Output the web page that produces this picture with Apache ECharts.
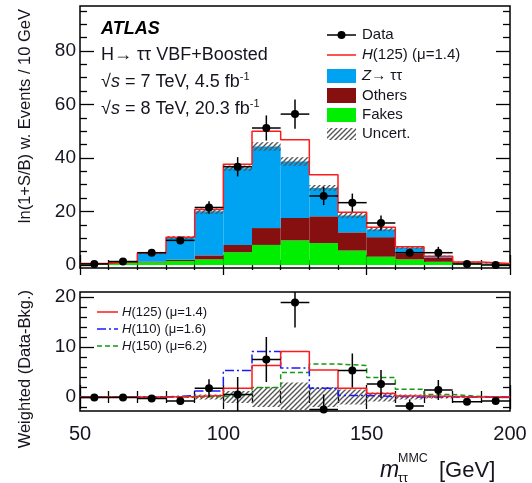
<!DOCTYPE html>
<html>
<head>
<meta charset="utf-8">
<script src="https://cdn.jsdelivr.net/npm/echarts@6/dist/echarts.min.js"></script>
<style>
html, body { margin: 0; padding: 0; background: #fff; }
#chart { width: 532px; height: 483px; }
</style>
</head>
<body>
<div id="chart"></div>
<script>
// bins of m_tautau^MMC, 10 GeV wide
const binLow = [50, 60, 70, 80, 90, 100, 110, 120, 130, 140, 150, 160, 170, 180, 190];
const binWidth = 10;

// upper panel: ln(1+S/B) weighted events
const fakes  = [0.3, 0.8, 1.0, 1.5, 2.1, 4.8, 7.5, 9.2, 8.2, 5.4, 3.1, 2.1, 1.2, 0.6, 0.3];
const others = [0.2, 0.3, 0.3, 0.5, 1.5, 2.7, 6.3, 8.4, 10.0, 6.8, 7.3, 2.3, 1.5, 0.3, 0.2];
const ztt    = [0.1, 0.2, 3.1, 8.2, 16.5, 28.7, 30.5, 21.1, 10.6, 6.3, 2.9, 2.1, 0.5, 0.2, 0.1];
const bkgUnc = [0.1, 0.2, 0.4, 0.6, 1.0, 1.0, 1.6, 1.6, 1.1, 1.0, 0.7, 0.5, 0.3, 0.2, 0.1];
const h125   = [0, 0, 0.1, 0.2, 0.6, 1.5, 5.7, 8.1, 4.9, 1.2, 0.8, 0.3, 0.1, 0, 0];
const dataTop    = [0.4, 1.3, 4.6, 9.2, 21.5, 36.7, 51.2, 56.4, 25.8, 23.3, 15.7, 4.6, 4.6, 0.4, 0.0];
const dataTopErr = [0.5, 0.6, 0.9, 1.2, 2.3, 3.6, 4.7, 5.5, 3.4, 3.4, 2.8, 1.5, 2.2, 0.5, 0.4];

// lower panel: weighted (data - bkg)
const dataW    = [-0.1, -0.1, -0.3, -0.8, 1.75, 0.5, 7.5, 18.9, -2.5, 5.3, 2.6, -1.8, 1.4, -0.95, -0.8];
const dataWErr = [0.3, 0.3, 0.5, 0.7, 1.8, 3.5, 4.5, 5.0, 3.0, 3.4, 2.8, 1.3, 2.0, 0.5, 0.3];
const uncW  = [0.05, 0.05, 0.1, 0.2, 0.5, 1.2, 2.0, 2.9, 2.0, 1.5, 0.9, 0.5, 0.3, 0.15, 0.1];
const h125W = [0, 0, 0, 0.1, 0.3, 1.75, 6.3, 9.1, 5.4, 1.75, 0.7, 0.2, 0.1, 0, 0];
const h110W = [0, 0, 0, 0.3, 1.2, 5.3, 9.1, 5.8, 1.75, 0.3, 0.1, 0, 0, 0, 0];
const h150W = [0, 0, 0, 0, 0.1, 0.5, 1.9, 4.9, 6.6, 6.3, 3.9, 1.55, 0.5, 0.1, 0];

// ticks
const xMajor = [50, 100, 150, 200];
const xMinor = [60, 70, 80, 90, 110, 120, 130, 140, 160, 170, 180, 190];
const yTopMajor = [0, 20, 40, 60, 80];
const yTopMinor = [5, 10, 15, 25, 30, 35, 45, 50, 55, 65, 70, 75, 85, 90, 95];
const yBotMajor = [0, 10, 20];
const yBotMinor = [-2, 2, 4, 6, 8, 12, 14, 16, 18];

const FONT = 'Liberation Sans';
const TXT = '#151520';

const hatchCanvas = (function () {
    const c = document.createElement('canvas');
    c.width = 5; c.height = 5;
    const g = c.getContext('2d');
    g.strokeStyle = '#555';
    g.lineWidth = 1.4;
    g.beginPath();
    g.moveTo(-1, 6); g.lineTo(6, -1);
    g.moveTo(-3, 3); g.lineTo(3, -3);
    g.moveTo(2, 8); g.lineTo(8, 2);
    g.stroke();
    return c;
})();
const hatch = { image: hatchCanvas, repeat: 'repeat' };

const sumArr = (a, b) => a.map((v, i) => v + b[i]);
const lvl1 = fakes;
const lvl2 = sumArr(fakes, others);
const bkg = sumArr(lvl2, ztt);

function rects(lo, hi) {
    return binLow.map((x, i) => [x, x + binWidth, lo[i], hi[i]]);
}
function steps(vals) {
    const pts = binLow.map((x, i) => [x, vals[i]]);
    pts.push([binLow[binLow.length - 1] + binWidth, vals[vals.length - 1]]);
    return pts;
}
function points(vals, errs) {
    return binLow.map((x, i) => [x + binWidth / 2, vals[i], errs[i]]);
}

function rectSeries(data, fill, xi, yi, z) {
    return {
        type: 'custom',
        xAxisIndex: xi,
        yAxisIndex: yi,
        z: z,
        silent: true,
        renderItem: function (params, api) {
            const p0 = api.coord([api.value(0), api.value(3)]);
            const p1 = api.coord([api.value(1), api.value(2)]);
            const cs = params.coordSys;
            const shape = echarts.graphic.clipRectByRect(
                { x: p0[0], y: p0[1], width: p1[0] - p0[0], height: p1[1] - p0[1] },
                { x: cs.x, y: cs.y, width: cs.width, height: cs.height }
            );
            if (!shape) return;
            return { type: 'rect', shape: shape, style: { fill: fill } };
        },
        data: data
    };
}

function stepSeries(vals, color, dash, xi, yi, z) {
    return {
        type: 'line',
        step: 'end',
        xAxisIndex: xi,
        yAxisIndex: yi,
        symbol: 'none',
        silent: true,
        z: z,
        lineStyle: { color: color, width: 1.5, type: dash },
        data: steps(vals)
    };
}

function pointSeries(data, xi, yi) {
    return {
        type: 'custom',
        xAxisIndex: xi,
        yAxisIndex: yi,
        z: 20,
        silent: true,
        renderItem: function (params, api) {
            const x = api.value(0), y = api.value(1), e = api.value(2);
            const cs = params.coordSys;
            const c = api.coord([x, y]);
            const l = api.coord([x - binWidth / 2, y]);
            const r = api.coord([x + binWidth / 2, y]);
            const top = Math.max(api.coord([x, y + e])[1], cs.y);
            const bot = Math.min(api.coord([x, y - e])[1], cs.y + cs.height);
            const ln = { stroke: '#000', lineWidth: 1.5 };
            return {
                type: 'group',
                children: [
                    { type: 'line', shape: { x1: l[0], y1: c[1], x2: r[0], y2: c[1] }, style: ln },
                    { type: 'line', shape: { x1: c[0], y1: top, x2: c[0], y2: bot }, style: ln },
                    { type: 'circle', shape: { cx: c[0], cy: c[1], r: 4 }, style: { fill: '#000' } }
                ]
            };
        },
        data: data
    };
}

function axis(gridIndex, position, min, max, ticks, len, label) {
    return {
        type: 'value',
        gridIndex: gridIndex,
        position: position,
        min: min,
        max: max,
        axisLine: { show: false },
        splitLine: { show: false },
        axisTick: {
            show: true, inside: true, length: len, customValues: ticks,
            lineStyle: { color: '#000', width: 1.3 }
        },
        axisLabel: label ? Object.assign({
            show: true, customValues: ticks, color: TXT,
            fontSize: 19, fontFamily: FONT
        }, label) : { show: false }
    };
}

function label(x, y, text, size, extra) {
    return {
        type: 'text', x: x, y: y,
        style: Object.assign({
            text: text, font: size + 'px ' + FONT, fill: TXT,
            align: 'left', verticalAlign: 'middle', textAlign: 'left', textVerticalAlign: 'middle'
        }, extra || {})
    };
}

const yTopMin = -1.12, yTopMax = 96.8;
const yBotMin = -2.8, yBotMax = 21;

const sqrtRich = {
    r: { fontSize: 18, fontFamily: FONT, lineHeight: 22 },
    s: { fontSize: 18, fontStyle: 'italic', fontFamily: FONT, lineHeight: 22 },
    sup: { fontSize: 11, fontFamily: FONT, verticalAlign: 'top', lineHeight: 11 }
};
const italicH = (size) => ({ rich: { i: { fontStyle: 'italic', fontSize: size, fontFamily: FONT } } });

const option = {
    animation: false,
    backgroundColor: '#fff',
    grid: [
        { left: 80, right: 22, top: 6, height: 262, show: true, borderColor: '#000', borderWidth: 1.5, backgroundColor: 'transparent' },
        { left: 80, right: 22, top: 292, height: 119, show: true, borderColor: '#000', borderWidth: 1.5, backgroundColor: 'transparent' }
    ],
    xAxis: [
        axis(0, 'bottom', 50, 200, xMajor, 10),
        axis(0, 'bottom', 50, 200, xMinor, 5),
        axis(0, 'top', 50, 200, xMajor, 10),
        axis(0, 'top', 50, 200, xMinor, 5),
        axis(1, 'bottom', 50, 200, xMajor, 12, { margin: 13, fontSize: 20 }),
        axis(1, 'bottom', 50, 200, xMinor, 6),
        axis(1, 'top', 50, 200, xMajor, 12),
        axis(1, 'top', 50, 200, xMinor, 6)
    ],
    yAxis: [
        axis(0, 'left', yTopMin, yTopMax, yTopMajor, 14, { margin: 4 }),
        axis(0, 'left', yTopMin, yTopMax, yTopMinor, 7),
        axis(0, 'right', yTopMin, yTopMax, yTopMajor, 14),
        axis(0, 'right', yTopMin, yTopMax, yTopMinor, 7),
        axis(1, 'left', yBotMin, yBotMax, yBotMajor, 14, { margin: 4 }),
        axis(1, 'left', yBotMin, yBotMax, yBotMinor, 7),
        axis(1, 'right', yBotMin, yBotMax, yBotMajor, 14),
        axis(1, 'right', yBotMin, yBotMax, yBotMinor, 7)
    ],
    series: [
        rectSeries(rects(fakes.map(() => 0), lvl1), '#00ee00', 0, 0, 2),
        rectSeries(rects(lvl1, lvl2), '#85100f', 0, 0, 2),
        rectSeries(rects(lvl2, bkg), '#00a2f2', 0, 0, 2),
        rectSeries(rects(bkg.map((v, i) => v - bkgUnc[i]), bkg.map((v, i) => v + bkgUnc[i])), hatch, 0, 0, 3),
        stepSeries(sumArr(bkg, h125), '#ff1a1a', 'solid', 0, 0, 4),
        pointSeries(points(dataTop, dataTopErr), 0, 0),

        rectSeries(rects(uncW.map(v => -v), uncW), hatch, 4, 4, 2),
        stepSeries(h150W, '#119911', [5, 3], 4, 4, 3),
        stepSeries(h110W, '#1a1aff', [9, 3, 2, 3], 4, 4, 4),
        stepSeries(h125W, '#ff1a1a', 'solid', 4, 4, 5),
        pointSeries(points(dataW, dataWErr), 4, 4)
    ],
    graphic: [
        // top-left labels
        label(101, 29, 'ATLAS', 18, { font: 'italic bold 18px ' + FONT, fill: '#000' }),
        label(101, 55, 'H\u2192 \u03c4\u03c4 VBF+Boosted', 18),
        label(101, 82, '{r|\u221a}{s|s} = 7 TeV, 4.5 fb{sup|-1}', 18, { rich: sqrtRich }),
        label(101, 109, '{r|\u221a}{s|s} = 8 TeV, 20.3 fb{sup|-1}', 18, { rich: sqrtRich }),

        // top legend
        { type: 'line', shape: { x1: 327, y1: 35, x2: 356, y2: 35 }, style: { stroke: '#000', lineWidth: 1.5 } },
        { type: 'circle', shape: { cx: 341.5, cy: 35, r: 4 }, style: { fill: '#000' } },
        label(362, 35, 'Data', 15),
        { type: 'line', shape: { x1: 327, y1: 55, x2: 356, y2: 55 }, style: { stroke: '#ff1a1a', lineWidth: 1.5 } },
        label(362, 55, '{i|H}(125) (\u03bc=1.4)', 15, italicH(15)),
        { type: 'rect', shape: { x: 327, y: 69, width: 29, height: 14 }, style: { fill: '#00a2f2' } },
        label(362, 76, '{i|Z}\u2192 \u03c4\u03c4', 15, italicH(15)),
        { type: 'rect', shape: { x: 327, y: 88, width: 29, height: 15 }, style: { fill: '#85100f' } },
        label(362, 96, 'Others', 15),
        { type: 'rect', shape: { x: 327, y: 108, width: 29, height: 14 }, style: { fill: '#00ee00' } },
        label(362, 115, 'Fakes', 15),
        { type: 'rect', shape: { x: 327, y: 128, width: 29, height: 12 }, style: { fill: hatch } },
        label(362, 134, 'Uncert.', 15),

        // bottom legend
        { type: 'line', shape: { x1: 97, y1: 312, x2: 118, y2: 312 }, style: { stroke: '#ff1a1a', lineWidth: 1.5 } },
        label(122, 312, '{i|H}(125) (\u03bc=1.4)', 13, italicH(13)),
        { type: 'line', shape: { x1: 97, y1: 329, x2: 118, y2: 329 }, style: { stroke: '#1a1aff', lineWidth: 1.5, lineDash: [9, 3, 2, 3] } },
        label(122, 329, '{i|H}(110) (\u03bc=1.6)', 13, italicH(13)),
        { type: 'line', shape: { x1: 97, y1: 346, x2: 118, y2: 346 }, style: { stroke: '#119911', lineWidth: 1.5, lineDash: [5, 3] } },
        label(122, 346, '{i|H}(150) (\u03bc=6.2)', 13, italicH(13)),

        // axis titles
        { type: 'text', x: 25, y: 9, rotation: Math.PI / 2, style: { text: 'ln(1+S/B) w. Events / 10 GeV', font: '16.5px ' + FONT, fill: TXT, align: 'right', verticalAlign: 'middle', textAlign: 'right', textVerticalAlign: 'middle' } },
        { type: 'text', x: 25, y: 290, rotation: Math.PI / 2, style: { text: 'Weighted (Data-Bkg.)', font: '16.5px ' + FONT, fill: TXT, align: 'right', verticalAlign: 'middle', textAlign: 'right', textVerticalAlign: 'middle' } },
        label(380, 471, 'm', 23, { font: 'italic 23px ' + FONT }),
        label(398, 459, 'MMC', 12.5),
        label(398, 479, '\u03c4\u03c4', 12.5),
        label(439, 471, '[GeV]', 22)
    ]
};

const chart = echarts.init(document.getElementById('chart'), null, { renderer: 'canvas' });
chart.setOption(option);
</script>
</body>
</html>
